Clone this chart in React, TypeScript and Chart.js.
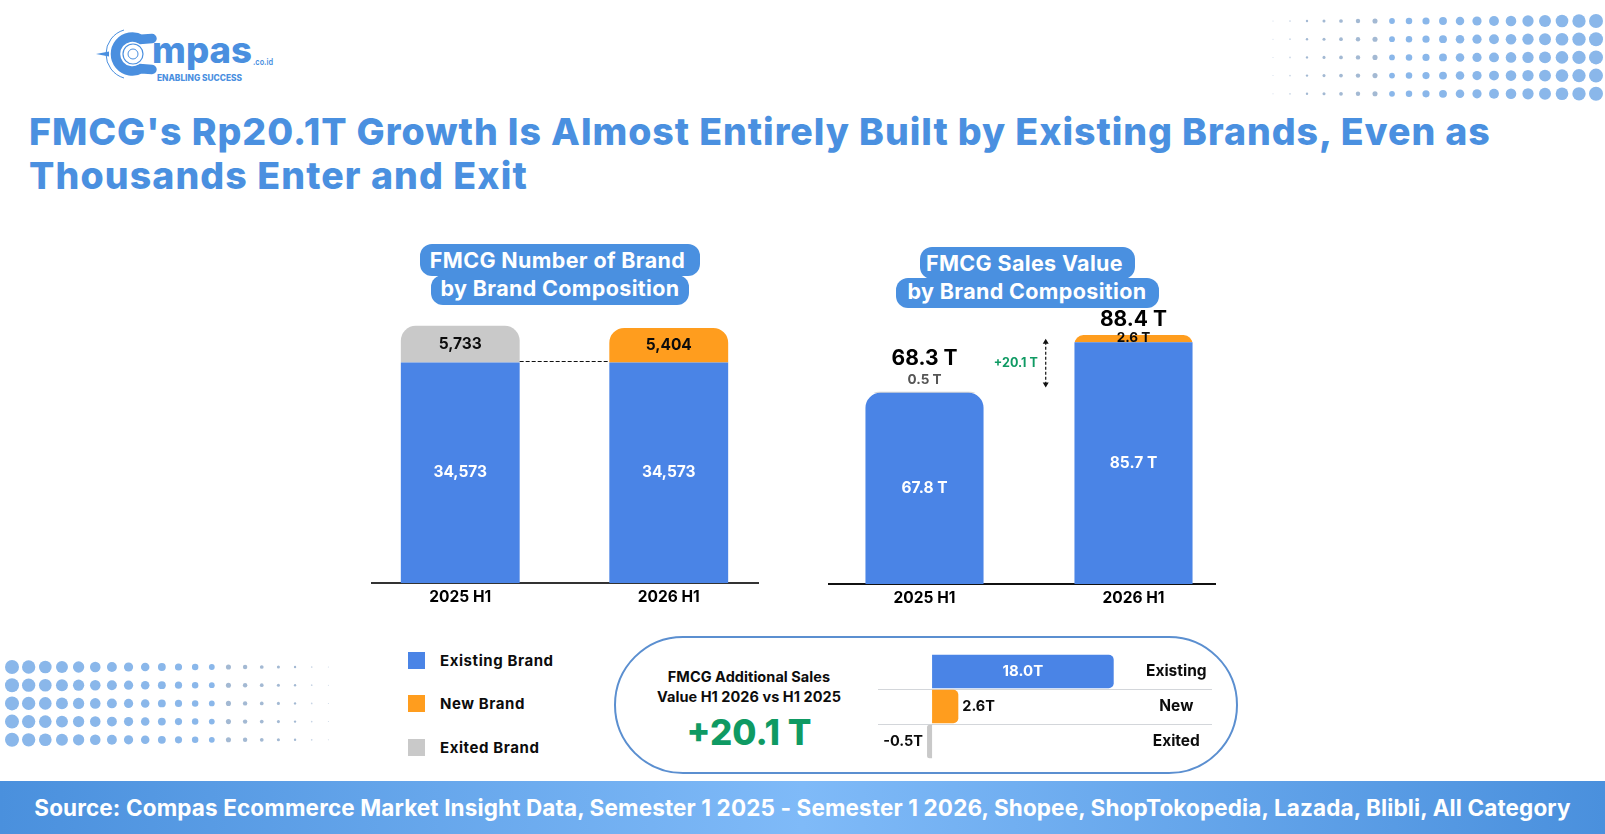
import React, { useEffect, useRef } from "react";
import { Chart, registerables } from "chart.js";

Chart.register(...registerables);

// ---------- data ----------
const periods = ["2025 H1", "2026 H1"];
const brandExisting = [34573, 34573];
const brandNew = [0, 5404];
const brandExited = [5733, 0];
const salesExisting = [67.8, 85.7];
const salesNew = [0, 2.6];
const salesExited = [0.5, 0];
const salesTotals = [68.3, 88.4];
const salesGrowth = "+20.1 T";
const deltaLabels = ["Existing", "New", "Exited"];
const deltaValues = [18.0, 2.6, -0.5];

// ---------- style ----------
const FONT = "Inter, 'Open Sans', sans-serif";
const BLUE = "#4a84e6";
const ORANGE = "#ff9d1e";
const GREY = "#c9c9c9";
const HEAD = "#4a90e0";
const GREEN = "#0f9a63";
const LOGO = "#4a8fdf";

const font = (size: number, weight = 700) => ({ family: "Inter, 'Open Sans', sans-serif", size, weight });
const cssFont = (size: number, weight = 700) => `${weight} ${size}px ${FONT}`;

function text(c: CanvasRenderingContext2D, s: string, x: number, y: number, f: string, color: string, align: CanvasTextAlign = "center") {
  c.save();
  c.font = f;
  c.fillStyle = color;
  c.textAlign = align;
  c.textBaseline = "middle";
  c.fillText(s, x, y);
  c.restore();
}

const brandPlugin = {
  id: "brandLabels",
  afterDatasetsDraw(chart: any) {
    const c = chart.ctx;
    chart.data.datasets.forEach((ds: any, di: number) => {
      chart.getDatasetMeta(di).data.forEach((el: any, i: number) => {
        const v = ds.data[i];
        if (!v) return;
        const mid = (el.y + el.base) / 2;
        text(c, v.toLocaleString("en-US"), el.x, mid, cssFont(15.5), di === 0 ? "#ffffff" : "#0c0c0c");
      });
    });
    const bars = chart.getDatasetMeta(0).data;
    const y = Math.round(chart.scales.y.getPixelForValue(brandExisting[0])) - 0.5;
    c.save();
    c.strokeStyle = "#111";
    c.lineWidth = 1;
    c.setLineDash([4, 2]);
    c.beginPath();
    c.moveTo(bars[0].x + bars[0].width / 2, y);
    c.lineTo(bars[1].x - bars[1].width / 2, y);
    c.stroke();
    c.restore();
  },
};

const salesPlugin = {
  id: "salesLabels",
  beforeDatasetDraw(chart: any, args: any) {
    if (args.index === 0) return;
    const c = chart.ctx;
    c.save();
    c.beginPath();
    chart.getDatasetMeta(args.index).data.forEach((el: any) => {
      const h = Math.abs(el.base - el.y);
      if (h < 0.01) return;
      c.roundRect(el.x - el.width / 2, el.y, el.width, 40, h < 3 ? 15 : 9);
    });
    c.clip();
  },
  afterDatasetDraw(chart: any, args: any) {
    if (args.index === 0) return;
    chart.ctx.restore();
  },
  afterDatasetsDraw(chart: any) {
    const c = chart.ctx;
    const yS = chart.scales.y;
    const xS = chart.scales.x;
    const meta = chart.getDatasetMeta(0).data;
    meta.forEach((el: any, i: number) => {
      const mid = (el.y + el.base) / 2;
      text(c, salesExisting[i].toFixed(1) + " T", el.x, mid, cssFont(15.5), "#ffffff");
      const top = yS.getPixelForValue(salesTotals[i]);
      if (salesExited[i] > 0) {
        text(c, salesExited[i].toFixed(1) + " T", el.x, top - 11, cssFont(13.5), "#555555");
      }
      if (salesNew[i] > 0) {
        text(c, salesNew[i].toFixed(1) + " T", el.x, top + 3, cssFont(13.5), "#0c0c0c");
      }
      text(c, salesTotals[i].toFixed(1) + " T", el.x, top - (salesExited[i] > 0 ? 33 : 15), cssFont(21), "#000000");
    });
    const ax = xS.getPixelForValue(0.58);
    const y1 = yS.getPixelForValue(salesTotals[1]) + 4;
    const y2 = yS.getPixelForValue(salesTotals[0]) - 4;
    c.save();
    c.strokeStyle = "#111";
    c.fillStyle = "#111";
    c.lineWidth = 1.2;
    c.setLineDash([3, 2]);
    c.beginPath();
    c.moveTo(ax, y1 + 3);
    c.lineTo(ax, y2 - 3);
    c.stroke();
    c.setLineDash([]);
    c.beginPath();
    c.moveTo(ax, y1);
    c.lineTo(ax - 3, y1 + 5);
    c.lineTo(ax + 3, y1 + 5);
    c.closePath();
    c.moveTo(ax, y2);
    c.lineTo(ax - 3, y2 - 5);
    c.lineTo(ax + 3, y2 - 5);
    c.closePath();
    c.fill();
    c.restore();
    text(c, salesGrowth, ax - 8, (y1 + y2) / 2, cssFont(12.5), GREEN, "right");
  },
};

const deltaPlugin = {
  id: "deltaLabels",
  afterDatasetsDraw(chart: any) {
    const c = chart.ctx;
    chart.getDatasetMeta(0).data.forEach((el: any, i: number) => {
      const v = deltaValues[i];
      const s = v.toFixed(1) + "T";
      if (v > 10) text(c, s, (el.x + el.base) / 2, el.y, cssFont(15), "#ffffff");
      else if (v > 0) text(c, s, el.x + 4, el.y, cssFont(14.5), "#0c0c0c", "left");
      else text(c, s, el.x - 4, el.y, cssFont(14.5), "#0c0c0c", "right");
    });
  },
};

const topRound = { topLeft: 15, topRight: 15, bottomLeft: 0, bottomRight: 0 };
const noRound = 0;

function stackedConfig(ex: number[], nw: number[], gone: number[], yMax: number, barPct: number, plugin: any, lineColor: string): any {
  const capShare = (i: number) => (nw[i] + gone[i]) / (ex[i] + nw[i] + gone[i]);
  return {
    type: "bar",
    data: {
      labels: periods,
      datasets: [
        {
          label: "Existing Brand",
          data: ex,
          backgroundColor: BLUE,
          borderRadius: (ctx: any) => (capShare(ctx.dataIndex) < 0.01 ? topRound : noRound),
        },
        { label: "New Brand", data: nw, backgroundColor: ORANGE, borderRadius: topRound },
        { label: "Exited Brand", data: gone, backgroundColor: GREY, borderRadius: topRound },
      ],
    },
    options: {
      responsive: false,
      animation: false,
      layout: { padding: 0 },
      barPercentage: barPct,
      categoryPercentage: 1,
      plugins: { legend: { display: false }, tooltip: { enabled: false }, title: { display: false } },
      scales: {
        x: {
          stacked: true,
          grid: { display: false },
          border: { color: lineColor, width: 2 },
          ticks: { color: "#000", font: font(15.5), padding: -3 },
          afterFit: (s: any) => {
            s.height = 32;
          },
        },
        y: { stacked: true, display: false, min: 0, max: yMax },
      },
    },
    plugins: [plugin],
  };
}

const hideEdge = (ctx: any, color: string) => (ctx.index === 1 || ctx.index === 2 ? color : "rgba(0,0,0,0)");

function deltaConfig(): any {
  return {
    type: "bar",
    data: {
      labels: deltaLabels,
      datasets: [
        {
          data: deltaValues,
          backgroundColor: [BLUE, ORANGE, GREY],
          borderRadius: 5,
          borderSkipped: "start",
          barPercentage: 0.96,
          categoryPercentage: 1,
        },
      ],
    },
    options: {
      indexAxis: "y",
      responsive: false,
      animation: false,
      layout: { padding: 0 },
      plugins: { legend: { display: false }, tooltip: { enabled: false } },
      scales: {
        x: { display: false, min: -5.36, max: 21.2 },
        y: {
          position: "right",
          reverse: false,
          border: { display: false },
          grid: {
            offset: true,
            tickLength: 66,
            color: (ctx: any) => hideEdge(ctx, "#d3d6da"),
            tickColor: (ctx: any) => hideEdge(ctx, "#d3d6da"),
          },
          ticks: { color: "#0c0c0c", font: font(15.5), padding: -66, crossAlign: "center" },
          afterFit: (s: any) => {
            s.width = 72;
          },
        },
      },
    },
    plugins: [deltaPlugin],
  };
}

function ChartBox({ config, left, top, width, height, clip }: any) {
  const ref = useRef<HTMLCanvasElement>(null);
  useEffect(() => {
    const chart = new Chart(ref.current as HTMLCanvasElement, config());
    return () => chart.destroy();
  }, []);
  return (
    <canvas
      ref={ref}
      width={width}
      height={height}
      style={{ position: "absolute", left, top, width, height, clipPath: clip }}
    />
  );
}

function Dots({ left, top, grow, stepX }: { left: number; top: number; grow: boolean; stepX: number }) {
  const cols = Array.from({ length: 20 }, (_, i) => i);
  const rows = [0, 1, 2, 3, 4];
  const stepY = 18.2;
  return (
    <svg style={{ position: "absolute", left, top }} width={stepX * 19 + 20} height={stepY * 4 + 20}>
      {rows.map((r) =>
        cols.map((c) => {
          const k = grow ? c : 19 - c;
          const rad = 0.5 + (6.5 * k) / 19;
          return (
            <circle
              key={r + "-" + c}
              cx={10 + c * stepX}
              cy={10 + r * stepY}
              r={rad}
              fill={k < 7 ? "#a3b9d3" : "#8ab7ea"}
              opacity={k < 2 ? 0.6 : 1}
            />
          );
        })
      )}
    </svg>
  );
}

function Pill({ cx, y1, lines, widths }: { cx: number; y1: number; lines: string[]; widths: number[] }) {
  const heights = [32, 30];
  const lineHeights = [32, 26];
  return (
    <>
      {lines.map((t, i) => (
        <div
          key={t}
          style={{
            position: "absolute",
            left: cx - widths[i] / 2,
            top: y1 + (i ? heights[0] - 1 : 0),
            width: widths[i],
            height: heights[i],
            font: cssFont(21.5),
            lineHeight: lineHeights[i] + "px",
            background: HEAD,
            borderRadius: 12,
            color: "#fff",
            textAlign: "center",
            textIndent: i ? 0 : -5,
            letterSpacing: 0.35,
            whiteSpace: "nowrap",
          }}
        >
          {t}
        </div>
      ))}
    </>
  );
}

function Label({ left, top, children, style }: any) {
  return (
    <div style={{ position: "absolute", left, top, whiteSpace: "nowrap", color: "#0c0c0c", font: cssFont(15), ...style }}>
      {children}
    </div>
  );
}

function Logo() {
  return (
    <svg style={{ position: "absolute", left: 94, top: 26 }} width={182} height={62}>
      <path d="M58 12.5 L47 13.3 A 17 17 0 1 0 47 42.7 L58 43.5" fill="none" stroke={LOGO} strokeWidth={9.5} strokeLinecap="round" />
      <path d="M30 4 A 25 25 0 0 0 30 52" fill="none" stroke={LOGO} strokeWidth={1} />
      <circle cx={39} cy={28} r={10} fill="none" stroke={LOGO} strokeWidth={1.2} />
      <circle cx={39} cy={28} r={5} fill="none" stroke={LOGO} strokeWidth={1} />
      <path d="M2 28 L15 25.5 L15 30.5 Z" fill={LOGO} />
      <text x={58} y={37} fill={LOGO} textLength={100} lengthAdjust="spacingAndGlyphs" style={{ font: cssFont(36, 800) }}>mpas</text>
      <text x={159} y={39} fill={LOGO} textLength={20} lengthAdjust="spacingAndGlyphs" style={{ font: cssFont(9, 600) }}>.co.id</text>
      <text x={63} y={55} fill={LOGO} textLength={85} lengthAdjust="spacingAndGlyphs" style={{ font: cssFont(8.5, 800) }}>ENABLING SUCCESS</text>
    </svg>
  );
}

export default function App() {
  return (
    <div style={{ position: "absolute", left: 0, top: 0, width: 1605, height: 834, overflow: "hidden", background: "#fff", fontFamily: FONT }}>
      <Logo />
      <Dots left={1263} top={11} grow={true} stepX={17} />
      <Dots left={2} top={657} grow={false} stepX={16.65} />

      <div style={{ position: "absolute", left: 29, top: 110, whiteSpace: "nowrap", color: HEAD, font: cssFont(37.5, 800), lineHeight: "44px", letterSpacing: 0.95 }}>
        FMCG's Rp20.1T Growth Is Almost Entirely Built by Existing Brands, Even as
      </div>
      <div style={{ position: "absolute", left: 29, top: 154, whiteSpace: "nowrap", color: HEAD, font: cssFont(37.5, 800), lineHeight: "44px", letterSpacing: 1.1 }}>
        Thousands Enter and Exit
      </div>

      <Pill cx={560} y1={244} lines={["FMCG Number of Brand", "by Brand Composition"]} widths={[280, 258]} />
      <Pill cx={1027} y1={247} lines={["FMCG Sales Value", "by Brand Composition"]} widths={[215, 263]} />

      <ChartBox
        config={() => stackedConfig(brandExisting, brandNew, brandExited, 42000, 0.57, brandPlugin, "#333333")}
        left={356}
        top={315}
        width={417}
        height={300}
        clip="inset(0 14px 0 15px)"
      />
      <ChartBox
        config={() => stackedConfig(salesExisting, salesNew, salesExited, 100, 0.565, salesPlugin, "#111111")}
        left={820}
        top={302}
        width={418}
        height={314}
        clip="inset(0 22px 0 8px)"
      />

      {[
        ["Existing Brand", BLUE, 652],
        ["New Brand", ORANGE, 695],
        ["Exited Brand", GREY, 739],
      ].map(([name, color, y]: any) => (
        <React.Fragment key={name}>
          <div style={{ position: "absolute", left: 408, top: y, width: 17, height: 17, background: color }} />
          <Label left={440} top={y - 1} style={{ lineHeight: "19px", letterSpacing: 0.58 }}>{name}</Label>
        </React.Fragment>
      ))}

      <div style={{ position: "absolute", left: 614, top: 636, width: 620, height: 134, border: "2px solid #5b8fd0", borderRadius: 69, boxSizing: "content-box" }} />
      <div style={{ position: "absolute", left: 649, top: 667, width: 200, whiteSpace: "nowrap", color: "#0c0c0c", font: cssFont(14.5), lineHeight: "20px", textAlign: "center", letterSpacing: 0.05 }}>
        FMCG Additional Sales
        <br />
        Value H1 2026 vs H1 2025
      </div>
      <div style={{ position: "absolute", left: 645, top: 710, width: 208, whiteSpace: "nowrap", color: GREEN, font: cssFont(35, 800), lineHeight: "44px", textAlign: "center" }}>
        {salesGrowth}
      </div>

      <ChartBox config={deltaConfig} left={878} top={654} width={340} height={105} />

      <div
        style={{
          position: "absolute",
          left: 0,
          top: 781,
          width: 1605,
          height: 53,
          background: "linear-gradient(90deg,#4a90dd 0%,#7fbaf8 50%,#4a90dd 100%)",
          color: "#fff",
          textAlign: "center",
          font: cssFont(22.5),
          lineHeight: "53px",
          letterSpacing: 0.125,
          whiteSpace: "nowrap",
        }}
      >
        Source: Compas Ecommerce Market Insight Data, Semester 1 2025 - Semester 1 2026, Shopee, ShopTokopedia, Lazada, Blibli, All Category
      </div>
    </div>
  );
}
